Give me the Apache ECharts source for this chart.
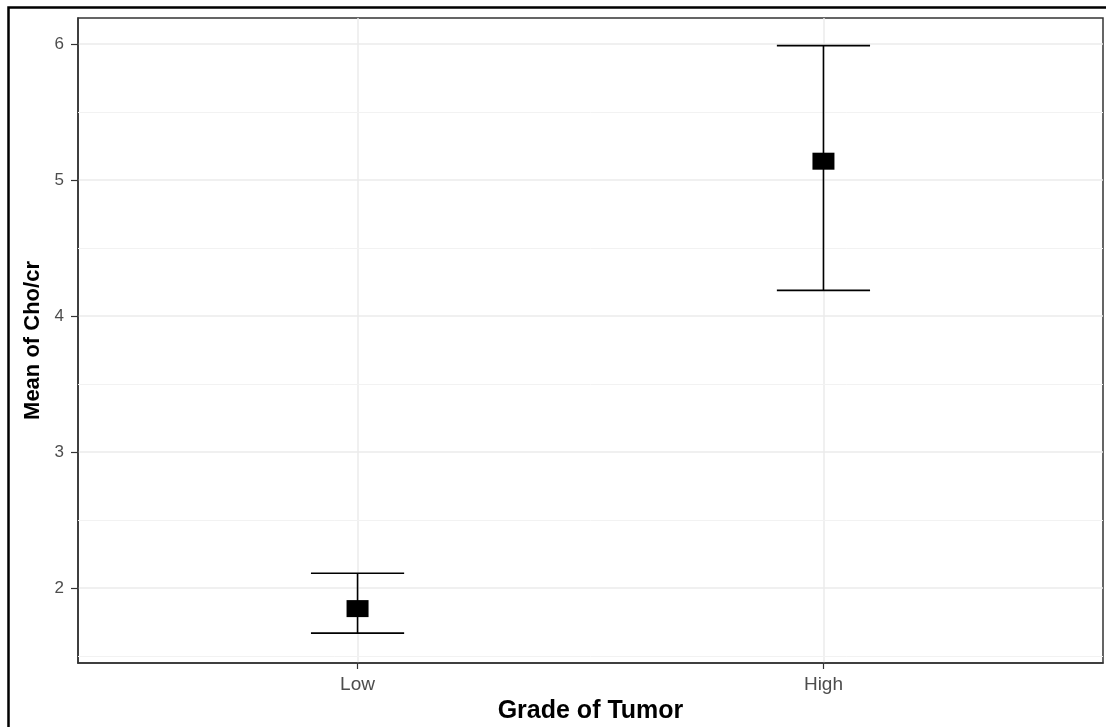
<!DOCTYPE html>
<html>
<head>
<meta charset="utf-8">
<script src="https://cdn.jsdelivr.net/npm/echarts@6/dist/echarts.min.js"></script>
<style>html,body{margin:0;padding:0;background:#fff;}#c{width:1106px;height:727px;}</style>
</head>
<body>
<div id="c"></div>
<script>
const categories = ['Low', 'High'];
const means = [1.85, 5.14];
const lowerCI = [1.67, 4.19];
const upperCI = [2.11, 5.99];
const yTicks = [2, 3, 4, 5, 6];
const yMinor = [1.5, 2.5, 3.5, 4.5, 5.5];

const positions = categories.map((c, i) => i + 1);
const chart = echarts.init(document.getElementById('c'));
const tickFont = 'Liberation Sans, Arial, sans-serif';

chart.setOption({
  animation: false,
  backgroundColor: '#fff',
  graphic: [{
    type: 'rect', left: 6, top: 5, z: 100,
    shape: { width: 1110, height: 740 },
    style: { fill: 'none', stroke: '#000', lineWidth: 2.5 }
  }],
  grid: { left: 78, top: 18, right: 3, bottom: 64, containLabel: false, outerBoundsMode: 'none', show: true, borderColor: '#333', borderWidth: 1.5, backgroundColor: 'transparent' },
  xAxis: {
    type: 'value', min: 0.4, max: 2.6,
    name: 'Grade of Tumor', nameLocation: 'middle', nameGap: 35,
    nameTextStyle: { fontFamily: tickFont, fontWeight: 'bold', fontSize: 25, color: '#000' },
    axisLine: { show: true, lineStyle: { color: '#333', width: 1.5 } },
    axisTick: { show: true, length: 6, customValues: positions, lineStyle: { color: '#333', width: 1.2 } },
    axisLabel: { customValues: positions, formatter: v => categories[Math.round(v) - 1], color: '#4d4d4d', fontSize: 19, fontFamily: tickFont, margin: 12 },
    splitLine: { show: true, lineStyle: { color: '#ebebeb', width: 1.5 } }
  },
  yAxis: {
    type: 'value', min: 1.45, max: 6.193,
    name: 'Mean of Cho/cr', nameLocation: 'middle', nameGap: 33,
    nameTextStyle: { fontFamily: tickFont, fontWeight: 'bold', fontSize: 22, color: '#000' },
    axisLine: { show: true, lineStyle: { color: '#333', width: 1.5 } },
    axisTick: { show: true, length: 7, customValues: yTicks, lineStyle: { color: '#333', width: 1.2 } },
    axisLabel: { customValues: yTicks, color: '#4d4d4d', fontSize: 17, fontFamily: tickFont, margin: 14 },
    splitLine: { show: true, lineStyle: { color: '#ebebeb', width: 1.5 } }
  },
  series: [
    {
      type: 'line', data: [], silent: true,
      markLine: {
        silent: true, symbol: 'none', label: { show: false },
        lineStyle: { color: '#f2f2f2', width: 1, type: 'solid' },
        data: yMinor.map(v => ({ yAxis: v }))
      }
    },
    {
      type: 'custom', silent: true, z: 5,
      data: positions.map((p, i) => [p, lowerCI[i], upperCI[i]]),
      renderItem: function (params, api) {
        const x = api.value(0), lo = api.value(1), hi = api.value(2);
        const pLo = api.coord([x, lo]), pHi = api.coord([x, hi]);
        const l = api.coord([x - 0.1, lo])[0], r = api.coord([x + 0.1, lo])[0];
        const st = { stroke: '#000', lineWidth: 1.6 };
        return { type: 'group', children: [
          { type: 'line', shape: { x1: pLo[0], y1: pLo[1], x2: pHi[0], y2: pHi[1] }, style: st },
          { type: 'line', shape: { x1: l, y1: pHi[1], x2: r, y2: pHi[1] }, style: st },
          { type: 'line', shape: { x1: l, y1: pLo[1], x2: r, y2: pLo[1] }, style: st }
        ]};
      }
    },
    {
      type: 'scatter', z: 6, silent: true,
      symbol: 'rect', symbolSize: [22, 17],
      itemStyle: { color: '#000', opacity: 1 },
      data: positions.map((p, i) => [p, means[i]])
    }
  ]
});
</script>
</body>
</html>
